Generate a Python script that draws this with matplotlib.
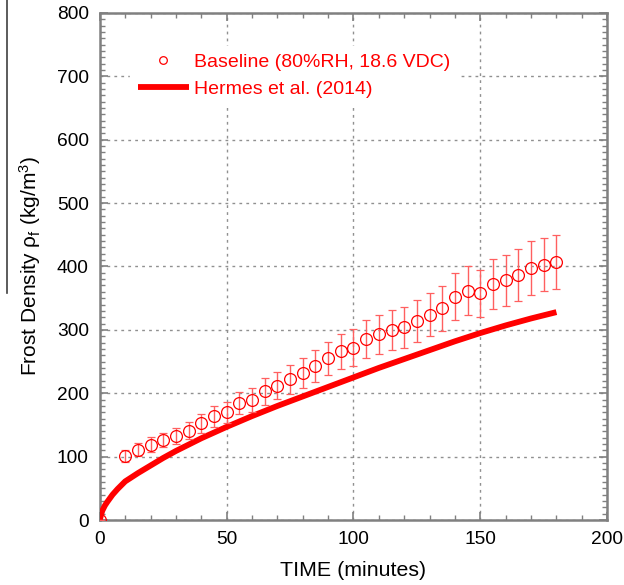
import matplotlib
matplotlib.use("Agg")
import matplotlib.pyplot as plt
from matplotlib.lines import Line2D
from matplotlib.ticker import MultipleLocator

plt.rcParams['font.family'] = ['Liberation Sans', 'DejaVu Sans']
plt.rcParams['mathtext.fontset'] = 'custom'
plt.rcParams['mathtext.rm'] = 'Liberation Sans'
plt.rcParams['mathtext.it'] = 'Liberation Sans:italic'

# Baseline measurements
time_meas = [0, 10, 15, 20, 25, 30, 35, 40, 45, 50, 55, 60, 65, 70, 75, 80, 85, 90,
             95, 100, 105, 110, 115, 120, 125, 130, 135, 140, 145, 150, 155, 160,
             165, 170, 175, 180]
rho_meas = [0, 101, 111, 119, 126, 133, 141, 153, 164, 170, 185, 190, 203, 212, 222,
            232, 243, 255, 266, 272, 286, 293, 300, 304, 314, 324, 334, 352, 362,
            358, 372, 378, 386, 397, 403, 407]
rho_err = [0, 10, 10.5, 12, 11.5, 12.5, 13, 15, 16.5, 16.5, 17, 19, 21, 21, 23, 23,
           25, 26, 28, 29.5, 30, 31, 31, 32, 33, 34, 35, 37, 38, 37, 39.5, 40, 41,
           42.5, 42, 43]

# Hermes et al. (2014) correlation curve
time_model = [0, 0.5, 1, 2, 3, 5, 7, 10, 15, 20, 25, 30, 40, 50, 60, 70, 80, 90,
              100, 110, 120, 130, 140, 150, 160, 170, 180]
rho_model = [0, 9, 15, 23, 29, 40, 49, 61, 74, 86, 98, 109, 129, 147, 164, 180,
             195, 210, 225, 240, 254, 268, 282, 295, 307, 318, 328]

RED = '#ff0000'
GRAY = '#808080'

fig = plt.figure(figsize=(6.24, 5.85), dpi=100)
ax = fig.add_axes([0.160, 0.111, 0.813, 0.867])

ax.plot(time_model, rho_model, color=RED, lw=4.2, solid_capstyle='butt',
        solid_joinstyle='round', zorder=3)
ax.errorbar(time_meas, rho_meas, yerr=rho_err, fmt='o', mfc='none', mec=RED,
            ms=8.5, mew=0.9, ecolor='#ff6060', elinewidth=1.0, capsize=2.8,
            capthick=1.0, zorder=4)

ax.set_xlim(0, 200)
ax.set_ylim(0, 800)
ax.xaxis.set_major_locator(MultipleLocator(50))
ax.xaxis.set_minor_locator(MultipleLocator(10))
ax.yaxis.set_major_locator(MultipleLocator(100))
ax.yaxis.set_minor_locator(MultipleLocator(10))
ax.grid(True, which='major', color='#909090', linestyle=(0, (2, 3)), lw=1.0)

for s in ax.spines.values():
    s.set_color(GRAY)
    s.set_linewidth(1.8)
ax.tick_params(which='both', direction='in', top=True, right=True, color=GRAY,
               labelsize=13.8, labelcolor='black')
ax.tick_params(which='major', length=6, width=1.2, pad=8)
ax.tick_params(which='minor', length=3.5, width=1.0)

ax.set_xlabel('TIME (minutes)', fontsize=15.4, labelpad=9)
ax.set_ylabel(r'Frost Density ρ$_\mathrm{f}$ (kg/m$^\mathrm{3}$)', fontsize=15, labelpad=10)

h_base = Line2D([], [], ls='none', marker='o', mfc='none', mec=RED, ms=5.5, mew=0.9)
h_model = Line2D([], [], color=RED, lw=4.2, solid_capstyle='butt')
leg = ax.legend([h_base, h_model], ['Baseline (80%RH, 18.6 VDC)', 'Hermes et al. (2014)'],
                loc='upper left', bbox_to_anchor=(0.06, 0.935),
                fontsize=14, frameon=True, facecolor='white', edgecolor='white',
                framealpha=1.0, fancybox=False, handlelength=2.6, handletextpad=0.3,
                labelspacing=0.45, borderaxespad=0)
for t in leg.get_texts():
    t.set_color(RED)

fig.add_artist(Line2D([7 / 624, 7 / 624], [1.0, 1 - 293 / 585],
                      transform=fig.transFigure, color='#404040', lw=1.2))

fig.savefig('out.png', dpi=100)
